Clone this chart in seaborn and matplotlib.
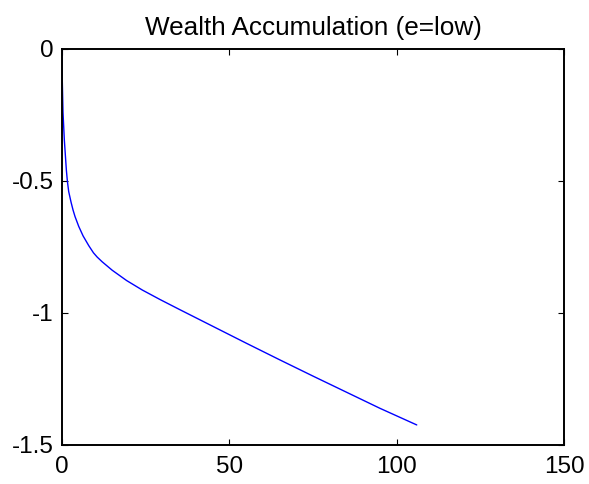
import matplotlib
matplotlib.use("Agg")
import matplotlib.pyplot as plt
import seaborn as sns
import pandas as pd

# Wealth path over time for the low-endowment case
time = [0, 0.05, 0.3, 0.7, 1.3, 1.6, 2.0, 2.7, 3.3, 3.9, 5.0, 6.3, 8.0, 9.4, 10.5,
        12, 15, 19.3, 24, 29.3, 35, 45, 55, 65, 75, 85, 95, 106]
wealth = [0, -0.10, -0.24, -0.345, -0.458, -0.50, -0.54, -0.58, -0.61, -0.635,
          -0.672, -0.708, -0.745, -0.772, -0.788, -0.806, -0.838, -0.877, -0.913,
          -0.949, -0.986, -1.050, -1.114, -1.177, -1.239, -1.300, -1.361, -1.424]

x_ticks = [0, 50, 100, 150]
y_ticks = [-1.5, -1, -0.5, 0]
y_tick_labels = ["-1.5", "-1", "-0.5", "0"]

sns.set_style("white")
plt.rcParams["font.family"] = ["Liberation Sans", "DejaVu Sans"]

df = pd.DataFrame({"t": time, "w": wealth})

fig = plt.figure(figsize=(5.89, 4.84), dpi=100)
ax = fig.add_axes([62 / 589, 1 - 445 / 484, (564 - 62) / 589, (445 - 49) / 484])

sns.lineplot(data=df, x="t", y="w", ax=ax, color="#0000ff", linewidth=1.0,
             sort=False, estimator=None)

ax.set_xlim(0, 150)
ax.set_ylim(-1.5, 0)
ax.set_xticks(x_ticks)
ax.set_xticklabels([str(v) for v in x_ticks])
ax.set_yticks(y_ticks)
ax.set_yticklabels(y_tick_labels)
ax.set_xlabel("")
ax.set_ylabel("")

for side in ["left", "right", "top", "bottom"]:
    ax.spines[side].set_visible(True)
    ax.spines[side].set_color("black")
    ax.spines[side].set_linewidth(1.4)

ax.tick_params(axis="both", which="major", direction="in", length=4,
               width=0.8, color="black", labelsize=17.5, labelcolor="black",
               top=True, right=True, bottom=True, left=True)
ax.tick_params(axis="x", pad=8)
ax.tick_params(axis="y", pad=6)

ax.set_title("Wealth Accumulation (e=low)", fontsize=18.8, color="black", pad=10)

fig.savefig("out.png", dpi=100, facecolor="white")
